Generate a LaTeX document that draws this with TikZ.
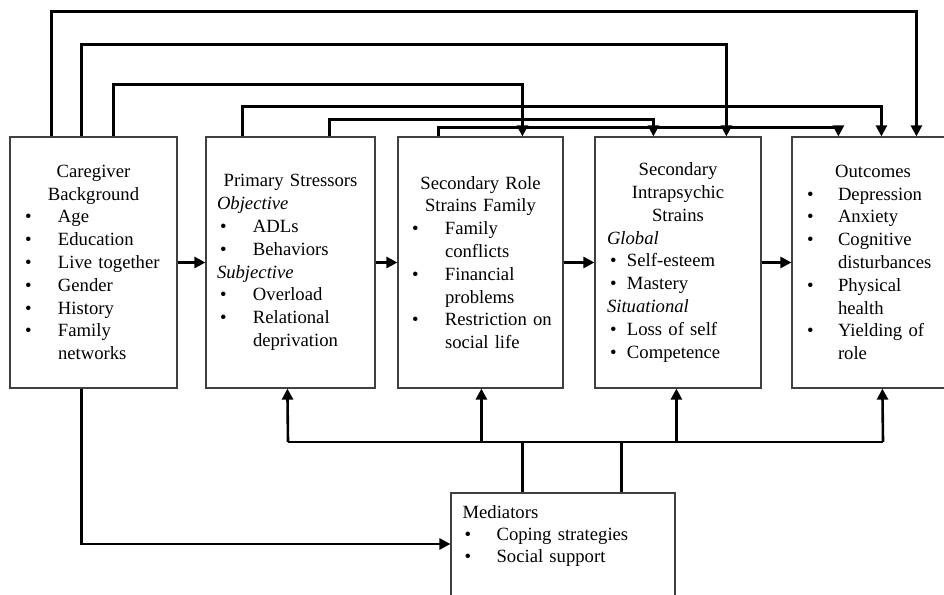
\documentclass[tikz,border=0pt]{standalone}
\usepackage{fontspec}
\setmainfont{Liberation Serif}
\usetikzlibrary{arrows.meta}
\newlength\bulx
\newlength\txtx
\newlength\hdx
\newcommand{\itm}[1]{\hspace*{\bulx}\makebox[\dimexpr\txtx-\bulx\relax][l]{\textbullet}#1}
\newcommand{\cnt}[1]{\hspace*{\txtx}#1}
\newcommand{\hd}[1]{\hspace*{\hdx}\textit{#1}}
\newcommand{\ttl}[1]{\makebox[\linewidth]{#1}}
\begin{document}
\begin{tikzpicture}[x=1pt, y=1pt,
    box/.style={draw=black!75, line width=1.2pt, text width=#1, minimum height=251pt,
        inner sep=0pt, align=left, font=\fontsize{18.66}{22.8}\selectfont},
    link/.style={line width=2.6pt, -{Triangle[length=11pt,width=11pt]}},
    bus/.style={line width=2.6pt}]
    \useasboundingbox (0,0) rectangle (944,594);
    % the five boxes in a row
    \node[box=167pt] (cg) at (93.5,331.5) {\setlength\bulx{15pt}\setlength\txtx{48pt}%
        \ttl{Caregiver}\\ \ttl{Background}\\
        \itm{Age}\\ \itm{Education}\\ \itm{Live together}\\ \itm{Gender}\\
        \itm{History}\\ \itm{Family}\\ \cnt{networks}};
    \node[box=169pt] (ps) at (290.5,331.5) {\setlength\bulx{14pt}\setlength\txtx{47pt}\setlength\hdx{11pt}%
        \ttl{Primary Stressors}\\ \hd{Objective}\\
        \itm{ADLs}\\ \itm{Behaviors}\\ \hd{Subjective}\\
        \itm{Overload}\\ \itm{Relational}\\ \cnt{deprivation}};
    \node[box=165pt] (sr) at (480.5,331.5) {\setlength\bulx{14pt}\setlength\txtx{47pt}%
        \ttl{Secondary Role}\\ \ttl{Strains Family}\\
        \itm{Family}\\ \cnt{conflicts}\\ \itm{Financial}\\ \cnt{problems}\\
        \itm{Restriction on}\\ \cnt{social life}};
    \node[box=166pt] (ip) at (678,331.5) {\setlength\bulx{15pt}\setlength\txtx{32pt}\setlength\hdx{12pt}%
        \ttl{Secondary}\\ \ttl{Intrapsychic}\\ \ttl{Strains}\\ \hd{Global}\\
        \itm{Self-esteem}\\ \itm{Mastery}\\ \hd{Situational}\\
        \itm{Loss of self}\\ \itm{Competence}};
    \node[box=162pt] (oc) at (873,331.5) {\setlength\bulx{15pt}\setlength\txtx{46pt}%
        \ttl{Outcomes}\\ \itm{Depression}\\ \itm{Anxiety}\\
        \itm{Cognitive}\\ \cnt{disturbances}\\ \itm{Physical}\\ \cnt{health}\\
        \itm{Yielding of}\\ \cnt{role}};
    % mediators, running off the bottom edge
    \node[draw=black!75, line width=1.2pt, minimum width=224pt, minimum height=120pt] (med) at (563,41) {};
    \node[anchor=base west, inner sep=0pt, text width=200pt, align=left,
        font=\fontsize{18.66}{22}\selectfont] (medtxt) at ([xshift=12pt,yshift=-26pt]med.north west)
        {\setlength\bulx{2pt}\setlength\txtx{34pt}%
        Mediators\\ \itm{Coping strategies}\\ \itm{Social support}};
    % arrows along the row
    \draw[link] (cg) -- (ps);
    \draw[link] (ps) -- (sr);
    \draw[link] (sr) -- (ip);
    \draw[link] (ip) -- (oc);
    % arrows over the top
    \draw[link] ([xshift=42]cg.north west) -- ++(0,125) -| ([xshift=125]oc.north west);
    \draw[link] ([xshift=72]cg.north west) -- ++(0,92) -| ([xshift=132]ip.north west);
    \draw[link] ([xshift=104]cg.north west) -- ++(0,52) -| ([xshift=125]sr.north west);
    \draw[link] ([xshift=37]ps.north west) -- ++(0,30) -| ([xshift=90]oc.north west);
    \draw[link] ([xshift=124]ps.north west) -- ++(0,17) -| ([xshift=59]ip.north west);
    \draw[link] ([xshift=41]sr.north west) -- ++(0,9) -| ([xshift=47]oc.north west);
    % mediators below
    \draw[link] ([xshift=72]cg.south west) |- ([yshift=9]med.west);
    \coordinate (busl) at (288,152);
    \coordinate (busr) at (883,152);
    \draw[bus] (busl) -- (busr);
    \draw[bus] ([xshift=72]med.north west) -- ([xshift=72]med.north west |- busl);
    \draw[bus] ([xshift=171]med.north west) -- ([xshift=171]med.north west |- busl);
    \draw[link] (busl) -- ([xshift=82]ps.south west);
    \draw[link] ([xshift=84]sr.south west |- busl) -- ([xshift=84]sr.south west);
    \draw[link] ([xshift=82]ip.south west |- busl) -- ([xshift=82]ip.south west);
    \draw[link] (busr) -- ([xshift=91]oc.south west);
\end{tikzpicture}
\end{document}
